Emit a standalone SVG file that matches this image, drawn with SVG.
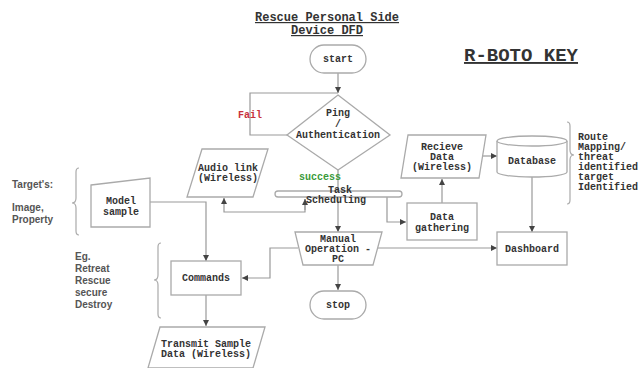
<svg xmlns="http://www.w3.org/2000/svg" width="641" height="368" viewBox="0 0 641 368">
<style>
.s{fill:#fff;stroke:#aaa;stroke-width:1.3}
.t{font-family:"Liberation Mono",monospace;font-weight:bold;font-size:10px;fill:#333;text-anchor:middle}
.c{fill:none;stroke:#999;stroke-width:1.2}
.n{font-family:"Liberation Sans",Arial,sans-serif;font-weight:bold;font-size:10px;fill:#555}
.r{font-family:"Liberation Mono",monospace;font-weight:bold;font-size:10px;fill:#333}
.b{fill:none;stroke:#aaa;stroke-width:1.2}
</style>
<defs>
<marker id="a" viewBox="0 0 6 6" refX="6" refY="3" markerWidth="5" markerHeight="5" orient="auto">
<path d="M0,0L6,3L0,6z" fill="#444"/>
</marker>
</defs>
<rect width="641" height="368" fill="#fff"/>
<g id="title">
<text x="327" y="21" font-family="Liberation Mono,monospace" font-weight="bold" font-size="12" fill="#333" text-anchor="middle" text-decoration="underline">Rescue Personal Side</text>
<text x="327" y="34" font-family="Liberation Mono,monospace" font-weight="bold" font-size="12" fill="#333" text-anchor="middle" text-decoration="underline">Device DFD</text>
<text x="521" y="61" font-family="Liberation Mono,monospace" font-weight="bold" font-size="19" fill="#333" text-anchor="middle" text-decoration="underline">R-BOTO KEY</text>
</g>
<g id="connectors">
<path class="c" d="M338,73V93" marker-end="url(#a)"/>
<path class="c" d="M287,135H250V93H338"/>
<path class="c" d="M338,170V191"/>
<path class="c" d="M338,197V232" marker-end="url(#a)"/>
<path class="c" d="M305,199V212H224V198" marker-end="url(#a)"/>
<path class="c" d="M305,210V199" marker-end="url(#a)"/>
<path class="c" d="M387,197V222H406" marker-end="url(#a)"/>
<path class="c" d="M442,203V179" marker-end="url(#a)"/>
<path class="c" d="M483,156H497" marker-end="url(#a)"/>
<path class="c" d="M532,176V232" marker-end="url(#a)"/>
<path class="c" d="M378,248H497" marker-end="url(#a)"/>
<path class="c" d="M298,248H270V278H242" marker-end="url(#a)"/>
<path class="c" d="M338,265V290" marker-end="url(#a)"/>
<path class="c" d="M150,202H206V261" marker-end="url(#a)"/>
<path class="c" d="M206,295V326" marker-end="url(#a)"/>
</g>
<g id="start">
<rect class="s" x="310" y="45" width="56" height="28" rx="14"/>
<text class="t" x="338" y="62">start</text>
</g>
<g id="ping">
<path class="s" d="M338,95L390,135L338,170L287,135z"/>
<text class="t" x="338" y="116">Ping</text>
<text class="t" x="338" y="127" font-size="8">/</text>
<text class="t" x="338" y="138">Authentication</text>
</g>
<g id="labels">
<text x="250" y="118" font-family="Liberation Mono,monospace" font-weight="bold" font-size="10" fill="#c8323c" text-anchor="middle">Fail</text>
<text x="320" y="180" font-family="Liberation Mono,monospace" font-weight="bold" font-size="10" fill="#3a9a3a" text-anchor="middle">success</text>
</g>
<g id="task">
<rect class="s" x="275" y="191" width="127" height="6" rx="3"/>
<text class="t" x="340" y="193">Task</text>
<text class="t" x="336" y="203">Scheduling</text>
</g>
<g id="audio">
<path class="s" d="M202,149H268L253,197H187z"/>
<text class="t" x="228" y="171">Audio link</text>
<text class="t" x="228" y="181">(Wireless)</text>
</g>
<g id="receive">
<path class="s" d="M408,135H486L479,178H401z"/>
<text class="t" x="442" y="150">Recieve</text>
<text class="t" x="442" y="160">Data</text>
<text class="t" x="442" y="170">(Wireless)</text>
</g>
<g id="database">
<path class="s" d="M497,141V172A35,5 0 0,0 567,172V141"/>
<ellipse class="s" cx="532" cy="141" rx="35" ry="5"/>
<text class="t" x="532" y="164">Database</text>
</g>
<g id="datagathering">
<rect class="s" x="407" y="203" width="70" height="37"/>
<text class="t" x="442" y="220">Data</text>
<text class="t" x="442" y="231">gathering</text>
</g>
<g id="dashboard">
<rect class="s" x="497" y="232" width="70" height="33"/>
<text class="t" x="532" y="252">Dashboard</text>
</g>
<g id="manual">
<path class="s" d="M295,232H382L373,265H303z"/>
<text class="t" x="338" y="242">Manual</text>
<text class="t" x="338" y="252">Operation -</text>
<text class="t" x="338" y="262">PC</text>
</g>
<g id="stop">
<rect class="s" x="310" y="291" width="56" height="28" rx="14"/>
<text class="t" x="338" y="308">stop</text>
</g>
<g id="model">
<path class="s" d="M91,185L150,178V227H91z"/>
<text class="t" x="121" y="204">Model</text>
<text class="t" x="121" y="215">sample</text>
</g>
<g id="commands">
<rect class="s" x="171" y="261" width="70" height="34"/>
<text class="t" x="206" y="281">Commands</text>
</g>
<g id="transmit">
<path class="s" d="M160,327H265L253,368H148z"/>
<text class="t" x="206" y="347">Transmit Sample</text>
<text class="t" x="206" y="357">Data (Wireless)</text>
</g>
<g id="notes">
<path class="b" d="M79,168Q76,168 76,172V198Q76,203 72,203Q76,203 76,208V231Q76,235 79,235"/>
<text class="n" x="12" y="188">Target's:</text>
<text class="n" x="12" y="211">Image,</text>
<text class="n" x="12" y="223">Property</text>
<path class="b" d="M161,243Q158,243 158,247V275Q158,280 154,280Q158,280 158,285V314Q158,318 161,318"/>
<text class="n" x="75" y="260">Eg.</text>
<text class="n" x="75" y="272">Retreat</text>
<text class="n" x="75" y="284">Rescue</text>
<text class="n" x="75" y="296">secure</text>
<text class="n" x="75" y="308">Destroy</text>
<path class="b" d="M567,122Q570,122 570,126V150Q570,155 574,155Q570,155 570,160V200Q570,204 567,204"/>
<text class="r" x="578" y="140">Route</text>
<text class="r" x="578" y="150">Mapping/</text>
<text class="r" x="578" y="160">threat</text>
<text class="r" x="578" y="170">identified</text>
<text class="r" x="578" y="180">target</text>
<text class="r" x="578" y="190">Identified</text>
</g>
</svg>
